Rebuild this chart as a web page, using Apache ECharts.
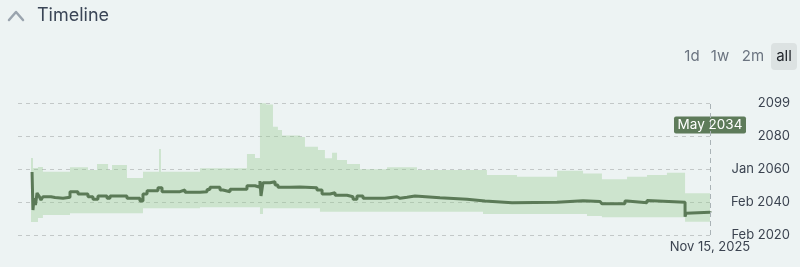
<!DOCTYPE html>
<html>
<head>
<meta charset="utf-8">
<script src="https://cdn.jsdelivr.net/npm/echarts@6/dist/echarts.min.js"></script>
<style>
html,body{margin:0;padding:0;background:#edf3f3;}
#chart{width:800px;height:267px;}
</style>
</head>
<body>
<div id="chart"></div>
<script>
// x values in decimal years, y values in decimal years
var xStart = 2020.6;
var xEnd = 2025.871;           // Nov 15, 2025
var xEndLabel = 'Nov 15, 2025';
var currentLabel = 'May 2034';
var yTickValues = [2020, 2040, 2060, 2080, 2100];
var yTickLabels = ['Feb 2020', 'Feb 2040', 'Jan 2060', '2080', '2099'];
var rangeButtons = ['1d', '1w', '2m', 'all'];

// community median (step line)
var lineX = [2020.707,2020.714,2020.722,2020.733,2020.745,2020.760,2020.775,2020.790,2020.851,2020.882,2020.897,2020.943,2020.996,2021.057,2021.133,2021.171,2021.209,2021.278,2021.301,2021.430,2021.529,2021.552,2021.583,2021.666,2021.697,2021.834,2021.872,2021.986,2022.040,2022.062,2022.139,2022.161,2022.215,2022.344,2022.405,2022.443,2022.451,2022.466,2022.519,2022.558,2022.580,2022.672,2022.748,2022.877,2022.916,2022.977,2023.015,2023.106,2023.152,2023.182,2023.228,2023.395,2023.487,2023.510,2023.563,2023.624,2023.814,2024.020,2024.157,2024.363,2024.705,2024.904,2025.033,2025.048,2025.223,2025.239,2025.391,2025.399,2025.681,2025.688,2025.703,2025.871];
var lineY = [2058.18,2035.15,2042.42,2038.18,2045.45,2043.63,2041.21,2043.21,2042.73,2041.63,2042.24,2042.85,2046.24,2044.85,2043.21,2041.63,2043.63,2042.24,2043.63,2042.24,2040.60,2044.85,2046.85,2048.66,2046.24,2047.27,2045.88,2046.24,2047.57,2048.91,2047.27,2046.24,2047.69,2049.88,2048.91,2052.72,2043.63,2051.69,2052.30,2050.30,2048.91,2049.09,2048.66,2047.27,2044.85,2045.63,2044.06,2043.21,2041.63,2043.63,2042.24,2043.21,2042.24,2042.85,2043.63,2042.60,2041.63,2040.60,2039.57,2039.82,2040.79,2040.30,2041.51,2038.97,2040.60,2039.57,2040.91,2039.82,2031.09,2033.15,2033.76,2034.37];

// uncertainty band (step)
var bandX = [2020.699,2020.714,2020.752,2020.790,2020.996,2021.133,2021.202,2021.286,2021.316,2021.430,2021.552,2021.674,2021.689,2021.986,2022.344,2022.405,2022.443,2022.466,2022.489,2022.542,2022.580,2022.611,2022.748,2022.786,2022.885,2022.900,2022.938,2022.992,2023.030,2023.106,2023.205,2023.411,2023.639,2024.142,2024.172,2024.401,2024.706,2024.904,2024.934,2025.048,2025.239,2025.391,2025.543,2025.681,2025.871];
var bandLow = [2027.88,2027.88,2030.30,2032.12,2033.15,2033.15,2033.15,2033.15,2033.15,2033.15,2036.18,2036.18,2036.18,2036.79,2036.79,2036.79,2032.73,2036.18,2036.18,2036.18,2036.18,2036.18,2036.18,2036.18,2036.18,2034.12,2034.12,2034.12,2034.12,2034.12,2034.12,2034.12,2034.12,2032.73,2032.73,2032.73,2032.73,2032.73,2031.51,2030.73,2030.73,2030.73,2030.73,2028.06,2028.06];
var bandHigh = [2066.66,2060.60,2061.21,2058.36,2061.03,2059.39,2063.03,2059.39,2062.42,2054.54,2058.36,2072.12,2058.36,2060.42,2069.09,2066.66,2099.80,2099.80,2099.08,2085.63,2083.63,2080.30,2079.39,2073.51,2071.51,2071.51,2066.48,2069.87,2065.45,2063.03,2059.81,2061.03,2059.39,2059.39,2056.36,2055.33,2058.97,2057.27,2057.27,2053.75,2055.33,2056.36,2057.75,2045.27,2045.27];

var FONT = 'Inter, "Noto Sans", sans-serif';
var lineColor = '#5b7a57';
var bandColor = 'rgba(150,202,140,0.36)';

var chart = echarts.init(document.getElementById('chart'), null, {renderer: 'canvas'});

var bandData = bandX.map(function (x, i) { return [x, bandLow[i], bandHigh[i]]; });
var lineData = lineX.map(function (x, i) { return [x, lineY[i]]; });

// whole band drawn as one stepped polygon (upper edge forward, lower edge back)
function renderBand(params, api) {
  if (params.dataIndex !== 0) return null;
  var n = bandX.length, pts = [], i, xNext;
  for (i = 0; i < n; i++) {
    xNext = i + 1 < n ? bandX[i + 1] : xEnd;
    pts.push(api.coord([bandX[i], bandHigh[i]]));
    pts.push(api.coord([xNext, bandHigh[i]]));
  }
  for (i = n - 1; i >= 0; i--) {
    xNext = i + 1 < n ? bandX[i + 1] : xEnd;
    pts.push(api.coord([xNext, bandLow[i]]));
    pts.push(api.coord([bandX[i], bandLow[i]]));
  }
  return {type: 'polygon', shape: {points: pts}, style: {fill: bandColor}};
}

var option = {
  backgroundColor: '#edf3f3',
  animation: false,
  grid: {left: 18, right: 90, top: 103, bottom: 32, containLabel: false},
  xAxis: {
    type: 'value', min: xStart, max: xEnd,
    axisLine: {show: false}, axisTick: {show: false}, splitLine: {show: false},
    axisLabel: {
      customValues: [xEnd],
      formatter: function () { return xEndLabel; },
      color: '#3b4350', fontFamily: FONT, fontSize: 13, margin: 6
    }
  },
  yAxis: {
    type: 'value', position: 'right', min: 2020, max: 2100, interval: 20,
    axisLine: {show: false}, axisTick: {show: false},
    splitLine: {show: true, lineStyle: {type: [4, 4], color: '#c3c8c8', width: 1}},
    axisLabel: {
      align: 'right', margin: 80, color: '#3b4350', fontFamily: FONT, fontSize: 13,
      formatter: function (v) {
        var i = yTickValues.indexOf(Math.round(v));
        return i >= 0 ? yTickLabels[i] : '';
      }
    }
  },
  series: [
    {
      type: 'custom', data: bandData, renderItem: renderBand,
      encode: {x: 0, y: [1, 2]}, silent: true, z: 1, clip: true
    },
    {
      type: 'line', step: 'end', data: lineData, symbol: 'none',
      lineStyle: {width: 3, color: lineColor}, z: 3,
      markLine: {
        silent: true, symbol: 'none', label: {show: false},
        lineStyle: {type: [5, 4], color: '#aab3b6', width: 1},
        data: [{xAxis: xEnd}]
      }
    }
  ]
};
chart.setOption(option);

// header and current-value label
var px = chart.convertToPixel({gridIndex: 0}, [xEnd, 2090]);
var btnX = [692, 720, 753, 784];
var graphics = [
  {type: 'polyline', shape: {points: [[9, 20], [16, 12], [23, 20]]},
   style: {stroke: '#9aa4ae', lineWidth: 2.5, fill: null, lineCap: 'round', lineJoin: 'round'}},
  {type: 'text', x: 37, y: 16, style: {text: 'Timeline', font: '18px ' + FONT, fill: '#3a4556', verticalAlign: 'middle'}},
  {type: 'rect', shape: {x: 771, y: 43, width: 26, height: 27, r: 4}, style: {fill: '#dce2e2'}},
  {type: 'group', x: px[0], y: 125, children: [
    {type: 'rect', shape: {x: -36, y: -8.5, width: 72, height: 17, r: 2}, style: {fill: '#5e7b5a'}},
    {type: 'text', style: {text: currentLabel, font: '13.5px ' + FONT, fill: '#ffffff', align: 'center', verticalAlign: 'middle'}}
  ]}
];
rangeButtons.forEach(function (b, i) {
  graphics.push({type: 'text', x: btnX[i], y: 56, style: {
    text: b, font: '15px ' + FONT, fill: b === 'all' ? '#1f2329' : '#6b7480',
    align: 'center', verticalAlign: 'middle'}});
});
chart.setOption({graphic: graphics});
</script>
</body>
</html>
